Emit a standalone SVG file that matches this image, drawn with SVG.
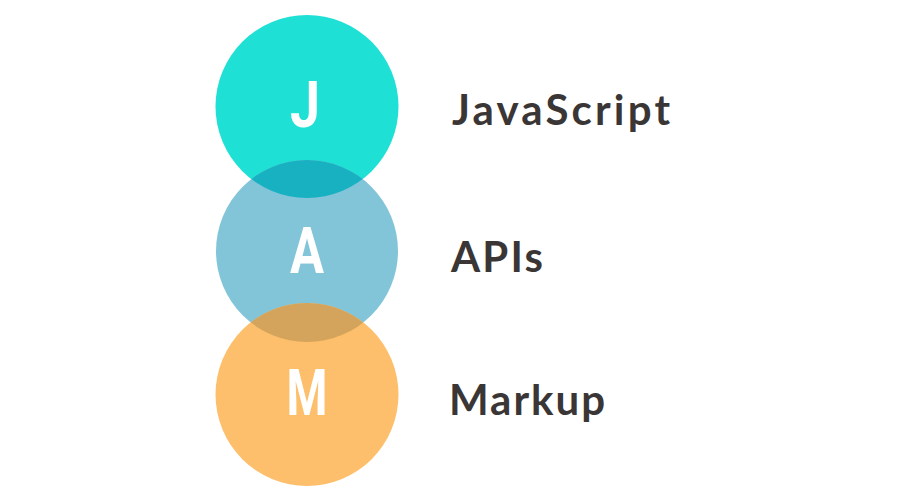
<svg xmlns="http://www.w3.org/2000/svg" width="920" height="504" viewBox="0 0 920 504">
<style>
.letter{font-family:Roboto,"Liberation Sans",sans-serif;font-weight:700;font-size:64px;fill:#ffffff;text-anchor:middle}
.label{font-family:Lato,"Open Sans",sans-serif;font-weight:700;font-size:42px;fill:#3b3636}
</style>
<defs>
<clipPath id="clipJ"><circle cx="307" cy="106.5" r="91.5"/></clipPath>
<clipPath id="clipA"><circle cx="307" cy="251" r="91"/></clipPath>
</defs>
<rect width="920" height="504" fill="#ffffff"/>
<g id="node-j">
<circle cx="307" cy="106.5" r="91.5" fill="#1fe0d4"/>
<text class="letter" x="305" y="127" textLength="30" lengthAdjust="spacingAndGlyphs">J</text>
</g>
<g id="node-a">
<circle cx="307" cy="251" r="91" fill="#82c4d8"/>
<circle cx="307" cy="251" r="91" fill="#18b1c2" clip-path="url(#clipJ)"/>
<text class="letter" x="307" y="273" textLength="34" lengthAdjust="spacingAndGlyphs">A</text>
</g>
<g id="node-m">
<circle cx="307" cy="394.5" r="91.5" fill="#fdbf6b"/>
<circle cx="307" cy="394.5" r="91.5" fill="#d4a45c" clip-path="url(#clipA)"/>
<text class="letter" x="307" y="415" textLength="41" lengthAdjust="spacingAndGlyphs">M</text>
</g>
<g id="label-javascript"><text class="label" x="452" y="125" textLength="218" lengthAdjust="spacing">JavaScript</text></g>
<g id="label-apis"><text class="label" x="451" y="272" textLength="92" lengthAdjust="spacing">APIs</text></g>
<g id="label-markup"><text class="label" x="449" y="415" textLength="156" lengthAdjust="spacing">Markup</text></g>
<g id="connectors"></g>
</svg>
